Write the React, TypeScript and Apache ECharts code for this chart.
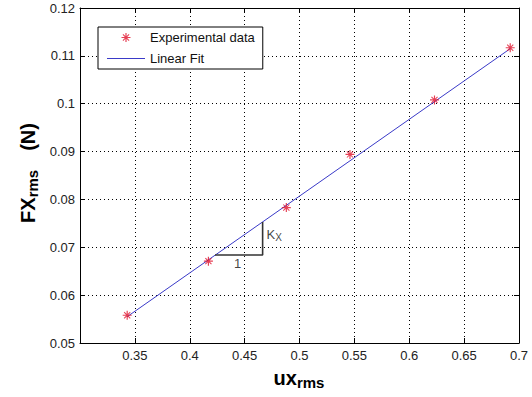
import React, { useEffect, useRef } from "react";
import * as echarts from "echarts";

const expX = [0.343, 0.417, 0.488, 0.546, 0.623, 0.692];
const expY = [0.0558, 0.0671, 0.0783, 0.0894, 0.1008, 0.1117];
const fitX = [0.343, 0.692];
const fitY = [0.0555, 0.1115];
const triX = [0.423, 0.4664, 0.4664];
const triY = [0.0684, 0.0684, 0.0753];
const oneLabel = [0.4435, 0.0666];
const kLabel = [0.4664, 0.0725];
const xTicks = { min: 0.3, max: 0.7, interval: 0.05 };
const yTicks = { min: 0.05, max: 0.12, interval: 0.01 };

const FONT = "'Liberation Sans', Arial, sans-serif";
const STAR =
  "path://M0 4.35L10 4.35L10 5.65L0 5.65Z M4.35 0L5.65 0L5.65 10L4.35 10Z M1.2 2.0L2.0 1.2L8.8 8.0L8.0 8.8Z M8.0 1.2L8.8 2.0L2.0 8.8L1.2 8.0Z";
const LINE_ICON = "path://M0 0L38 0L38 1L0 1Z";

const fmt = (v: number) => String(+v.toFixed(2));

export default function App() {
  const ref = useRef<HTMLDivElement>(null);
  useEffect(() => {
    if (!ref.current) return;
    const chart = echarts.init(ref.current, undefined, { renderer: "svg" });
    const axisCommon = {
      axisLine: { show: true, onZero: false, lineStyle: { color: "#000", width: 1 } },
      axisTick: { show: true, inside: true, length: 5, lineStyle: { color: "#000" } },
    };
    chart.setOption({
      animation: false,
      backgroundColor: "#fff",
      textStyle: { fontFamily: FONT },
      grid: { left: 80, right: 13, top: 8, bottom: 54 },
      legend: {
        orient: "vertical",
        left: 98,
        top: 27,
        backgroundColor: "#fff",
        borderColor: "#000",
        borderWidth: 1,
        borderRadius: 0,
        padding: [4, 8, 4, 9],
        itemWidth: 38,
        itemHeight: 9,
        itemGap: 8,
        textStyle: { fontSize: 13, color: "#111", fontFamily: FONT },
        data: [
          { name: "Experimental data", icon: STAR },
          { name: "Linear Fit", icon: LINE_ICON },
        ],
      },
      xAxis: [
        {
          type: "value",
          ...xTicks,
          ...axisCommon,
          position: "bottom",
          axisLabel: {
            margin: 6,
            fontSize: 13,
            color: "#222",
            fontFamily: FONT,
            formatter: (v: number) => (Math.abs(v - 0.3) < 1e-9 ? "" : fmt(v)),
          },
          splitLine: { show: true, lineStyle: { color: "#000", type: [1, 3], width: 1 } },
        },
        {
          type: "value",
          ...xTicks,
          ...axisCommon,
          position: "top",
          axisLabel: { show: false },
          splitLine: { show: false },
        },
      ],
      yAxis: [
        {
          type: "value",
          ...yTicks,
          ...axisCommon,
          position: "left",
          axisLabel: { margin: 5, fontSize: 13, color: "#222", fontFamily: FONT, formatter: fmt },
          splitLine: { show: true, lineStyle: { color: "#000", type: [1, 3], width: 1 } },
        },
        {
          type: "value",
          ...yTicks,
          ...axisCommon,
          position: "right",
          axisLabel: { show: false },
          splitLine: { show: false },
        },
      ],
      series: [
        {
          name: "Linear Fit",
          type: "line",
          data: fitX.map((x, i) => [x, fitY[i]]),
          showSymbol: false,
          symbol: "none",
          lineStyle: { color: "#3a3ac8", width: 1 },
          itemStyle: { color: "#3a3ac8" },
          z: 2,
        },
        {
          name: "Experimental data",
          type: "scatter",
          data: expX.map((x, i) => [x, expY[i]]),
          symbol: STAR,
          symbolSize: 9,
          itemStyle: { color: "#e0102a" },
          z: 3,
        },
        {
          name: "triangle",
          type: "line",
          data: triX.map((x, i) => [x, triY[i]]),
          symbol: "none",
          lineStyle: { color: "#333", width: 1.6 },
          z: 2,
        },
        {
          name: "labels",
          type: "scatter",
          symbolSize: 0,
          silent: true,
          data: [
            {
              value: oneLabel,
              label: {
                show: true,
                position: "inside",
                formatter: "1",
                fontSize: 13,
                color: "#111",
                fontFamily: FONT,
              },
            },
            {
              value: kLabel,
              label: {
                show: true,
                position: "right",
                distance: 4,
                formatter: "{k|K}{s|X}",
                rich: {
                  k: { fontSize: 13, color: "#111", fontFamily: FONT, verticalAlign: "top", lineHeight: 14 },
                  s: {
                    fontSize: 10,
                    color: "#111",
                    fontFamily: FONT,
                    verticalAlign: "bottom",
                    lineHeight: 11,
                    padding: [6, 0, 0, 0],
                  },
                },
              },
            },
          ],
        },
      ],
      graphic: [
        {
          type: "text",
          x: 299,
          y: 378.6,
          style: {
            text: "{a|ux}{b|rms}",
            align: "center",
            verticalAlign: "middle",
            rich: {
              a: { fontSize: 20, fontWeight: "bold", fontFamily: FONT, fill: "#000", verticalAlign: "top", lineHeight: 22 },
              b: {
                fontSize: 15,
                fontWeight: "bold",
                fontFamily: FONT,
                fill: "#000",
                verticalAlign: "bottom",
                lineHeight: 16,
                padding: [12, 0, 0, 0],
              },
            },
          },
        },
        {
          type: "text",
          x: 28.5,
          y: 173,
          rotation: Math.PI / 2,
          style: {
            text: "{a|FX}{b|rms}{c|(N)}",
            align: "center",
            verticalAlign: "middle",
            rich: {
              a: { fontSize: 20, fontWeight: "bold", fontFamily: FONT, fill: "#000", verticalAlign: "top", lineHeight: 22 },
              b: {
                fontSize: 15,
                fontWeight: "bold",
                fontFamily: FONT,
                fill: "#000",
                verticalAlign: "bottom",
                lineHeight: 16,
                padding: [14, 0, 0, 0],
              },
              c: {
                fontSize: 20,
                fontWeight: "bold",
                fontFamily: FONT,
                fill: "#000",
                verticalAlign: "top",
                lineHeight: 22,
                padding: [0, 0, 0, 19],
              },
            },
          },
        },
      ],
    });
    return () => chart.dispose();
  }, []);
  return <div ref={ref} style={{ width: 532, height: 397, position: "absolute", left: 0, top: 0 }} />;
}
